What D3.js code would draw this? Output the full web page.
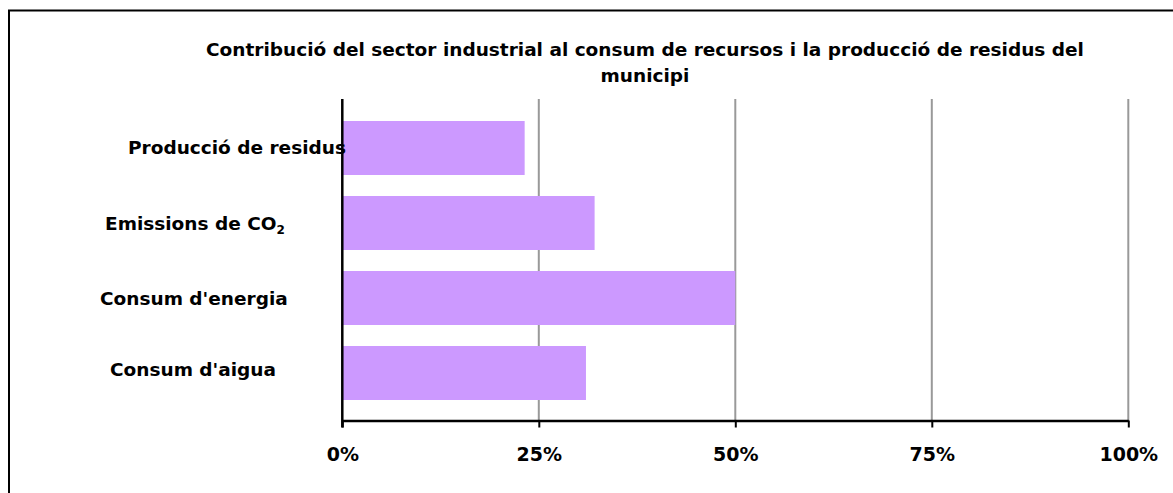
<!DOCTYPE html>
<html>
<head>
<meta charset="utf-8">
<script src="https://cdn.jsdelivr.net/npm/d3@7"></script>
<style>
  html, body { margin: 0; padding: 0; background: #fff; }
  svg { display: block; }
  text { font-family: "DejaVu Sans", Verdana, sans-serif; font-weight: bold; fill: #000; }
</style>
</head>
<body>
<svg id="chart" width="1173" height="493"></svg>
<script>
// ---- data ----
const categories = ["Producció de residus", "Emissions de CO2", "Consum d'energia", "Consum d'aigua"];
const values = [0.232, 0.321, 0.50, 0.310];
const tickValues = [0, 0.25, 0.5, 0.75, 1];
const tickLabels = ["0%", "25%", "50%", "75%", "100%"];
const titleLines = ["Contribució del sector industrial al consum de recursos i la producció de residus del", "municipi"];

// ---- layout ----
const W = 1173, H = 493;
const plot = { left: 342.3, right: 1128.3, top: 99, bottom: 420.5 };
const labelStartX = [128, 105, 100, 110];
const labelDy = [6, 7, 7, 3];

const svg = d3.select("#chart");

// outer border
svg.append("rect")
  .attr("x", 9).attr("y", 10.5)
  .attr("width", W + 10).attr("height", H + 10)
  .attr("fill", "#fff").attr("stroke", "#000").attr("stroke-width", 2);

const x = d3.scaleLinear().domain([0, 1]).range([plot.left, plot.right]);
const y = d3.scaleBand().domain(categories).range([110.5, 410.5])
  .paddingInner(0.28).paddingOuter(0.14);

// gridlines
svg.append("g").selectAll("line")
  .data(tickValues.slice(1))
  .join("line")
  .attr("x1", d => x(d)).attr("x2", d => x(d))
  .attr("y1", plot.top).attr("y2", plot.bottom)
  .attr("stroke", "#999").attr("stroke-width", 2);

// bars
svg.append("g").selectAll("rect")
  .data(categories)
  .join("rect")
  .attr("x", x(0))
  .attr("y", d => y(d))
  .attr("width", (d, i) => x(values[i]) - x(0))
  .attr("height", y.bandwidth())
  .attr("fill", "#CC99FF");

// x axis
const xAxis = d3.axisBottom(x)
  .tickValues(tickValues)
  .tickFormat((d, i) => tickLabels[i])
  .tickSize(7)
  .tickSizeOuter(0);
const gx = svg.append("g")
  .attr("transform", `translate(0,${plot.bottom})`)
  .call(xAxis);
gx.select(".domain").attr("stroke", "#000").attr("stroke-width", 2.5);
gx.selectAll(".tick line").attr("stroke", "#000").attr("stroke-width", 2);
gx.selectAll(".tick text")
  .attr("y", 40.5).attr("dy", 0)
  .style("font-family", "DejaVu Sans, Verdana, sans-serif")
  .style("font-weight", "bold")
  .style("font-size", "19px")
  .attr("fill", "#000");

// y axis line
svg.append("line")
  .attr("x1", x(0)).attr("x2", x(0))
  .attr("y1", plot.top).attr("y2", plot.bottom + 7)
  .attr("stroke", "#000").attr("stroke-width", 2.5);

// category labels
const labels = svg.append("g").selectAll("text")
  .data(categories)
  .join("text")
  .attr("x", (d, i) => labelStartX[i])
  .attr("y", (d, i) => y(d) + y.bandwidth() / 2 + labelDy[i])
  .style("font-size", "18.5px");
labels.each(function(d) {
  const t = d3.select(this);
  if (d.endsWith("CO2")) {
    t.append("tspan").text(d.slice(0, -1));
    t.append("tspan").text("2").attr("dy", 4).style("font-size", "12px");
  } else {
    t.text(d);
  }
});

// title
svg.append("text")
  .attr("text-anchor", "middle")
  .style("font-size", "18.5px")
  .selectAll("tspan")
  .data(titleLines)
  .join("tspan")
  .attr("x", 645)
  .attr("y", (d, i) => 56 + i * 26)
  .text(d => d);
</script>
</body>
</html>
